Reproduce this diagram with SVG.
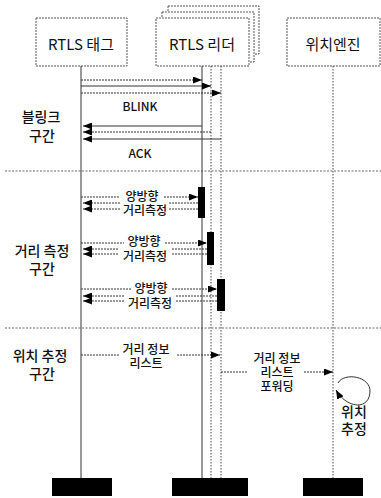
<svg xmlns="http://www.w3.org/2000/svg" width="381" height="498" viewBox="0 0 381 498">
<style>
text{font-family:"Noto Sans CJK KR","Noto Sans",sans-serif;fill:#111;text-anchor:middle;dominant-baseline:central}
.hdr{font-size:15px}
.lbl{font-size:12px;font-weight:500}
.sec{font-size:14px;font-weight:500}
.box{fill:#fff;stroke:#555;stroke-width:1;stroke-dasharray:2 1}
.life{stroke:#333;stroke-width:1;fill:none}
.dot{stroke:#444;stroke-width:1;stroke-dasharray:1.5 1.5;fill:none}
.sep{stroke:#666;stroke-width:1;stroke-dasharray:2 1.5;fill:none}
.ln{stroke:#333;stroke-width:1;fill:none}
.dln{stroke:#333;stroke-width:1;fill:none;stroke-dasharray:2 1}
.arr{marker-end:url(#ah)}
.act{fill:#000}
.bar{fill:#000}
</style>
<defs>
<marker id="ah" markerUnits="userSpaceOnUse" markerWidth="9" markerHeight="7" refX="9" refY="3.5" orient="auto">
<path d="M0,0 L9,3.5 L0,7 z" fill="#000"/>
</marker>
</defs>

<g id="sections">
<line class="sep" x1="5" y1="171" x2="381" y2="171"/>
<line class="sep" x1="5" y1="328" x2="381" y2="328"/>
<text class="sec" x="41" y="116">블링크</text>
<text class="sec" x="42" y="135">구간</text>
<text class="sec" x="42" y="250">거리 측정</text>
<text class="sec" x="42" y="268">구간</text>
<text class="sec" x="40" y="355">위치 추정</text>
<text class="sec" x="42" y="373">구간</text>
</g>

<g id="tag">
<rect class="box" x="36" y="18" width="91" height="48"/>
<text class="hdr" x="81" y="43">RTLS 태그</text>
<line class="life" x1="81" y1="66" x2="81" y2="478"/>
<rect class="bar" x="52" y="478" width="60" height="18"/>
</g>

<g id="reader">
<rect class="box" x="168" y="6" width="91" height="48"/>
<rect class="box" x="162" y="12" width="92" height="50"/>
<rect class="box" x="156" y="18" width="93" height="48"/>
<text class="hdr" x="202" y="43">RTLS 리더</text>
<line class="life" x1="202" y1="66" x2="202" y2="478"/>
<line class="dot" x1="211" y1="66" x2="211" y2="478"/>
<line class="dot" x1="221" y1="66" x2="221" y2="478"/>
<rect class="bar" x="172" y="478" width="76" height="18"/>
</g>

<g id="engine">
<rect class="box" x="287" y="18" width="93" height="48"/>
<text class="hdr" x="333" y="43">위치엔진</text>
<line class="dot" x1="333" y1="66" x2="333" y2="478"/>
<rect class="bar" x="303" y="478" width="60" height="18"/>
</g>

<g id="activations">
<rect class="act" x="198" y="187" width="7" height="31"/>
<rect class="act" x="207" y="232" width="7" height="33"/>
<rect class="act" x="217" y="279" width="8" height="32"/>
</g>

<g id="connectors">
<!-- blink -->
<line class="dln arr" x1="81" y1="80" x2="202" y2="80"/>
<line class="ln arr" x1="81" y1="86" x2="211" y2="86"/>
<line class="dln arr" x1="81" y1="93" x2="221" y2="93"/>
<text class="lbl" x="140" y="105">BLINK</text>
<line class="ln arr" x1="202" y1="126" x2="83" y2="126"/>
<line class="dln arr" x1="211" y1="132" x2="83" y2="132"/>
<line class="ln arr" x1="221" y1="139" x2="83" y2="139"/>
<text class="lbl" x="140" y="152">ACK</text>

<!-- ranging 1 -->
<line class="dln" x1="81" y1="197" x2="120" y2="197"/>
<line class="dln arr" x1="164" y1="197" x2="198" y2="197"/>
<text class="lbl" x="142" y="195">양방향</text>
<line class="dln" x1="198" y1="203" x2="169" y2="203"/>
<line class="dln arr" x1="120" y1="203" x2="83" y2="203"/>
<line class="dln" x1="198" y1="209" x2="169" y2="209"/>
<line class="dln arr" x1="120" y1="209" x2="83" y2="209"/>
<text class="lbl" x="145" y="209">거리측정</text>

<!-- ranging 2 -->
<line class="dln" x1="81" y1="243" x2="124" y2="243"/>
<line class="dln arr" x1="165" y1="243" x2="207" y2="243"/>
<text class="lbl" x="144" y="240">양방향</text>
<line class="dln" x1="207" y1="249" x2="172" y2="249"/>
<line class="dln arr" x1="118" y1="249" x2="83" y2="249"/>
<line class="dln" x1="207" y1="254" x2="172" y2="254"/>
<line class="dln arr" x1="118" y1="254" x2="83" y2="254"/>
<text class="lbl" x="145" y="255">거리측정</text>

<!-- ranging 3 -->
<line class="dln" x1="81" y1="289" x2="131" y2="289"/>
<line class="dln arr" x1="172" y1="289" x2="217" y2="289"/>
<text class="lbl" x="151" y="287">양방향</text>
<line class="dln" x1="217" y1="296" x2="176" y2="296"/>
<line class="dln arr" x1="124" y1="296" x2="83" y2="296"/>
<line class="dln" x1="217" y1="301" x2="176" y2="301"/>
<line class="dln arr" x1="124" y1="301" x2="83" y2="301"/>
<text class="lbl" x="150" y="302">거리측정</text>

<!-- position -->
<line class="dln" x1="81" y1="355" x2="120" y2="355"/>
<line class="dln arr" x1="177" y1="355" x2="220" y2="355"/>
<text class="lbl" x="146" y="348">거리 정보</text>
<text class="lbl" x="146" y="362">리스트</text>
<line class="dln" x1="221" y1="372" x2="248" y2="372"/>
<line class="dln arr" x1="304" y1="372" x2="333" y2="372"/>
<text class="lbl" x="277" y="357">거리 정보</text>
<text class="lbl" x="277" y="371">리스트</text>
<text class="lbl" x="277" y="385">포워딩</text>
<path class="ln arr" d="M338,383 C344,372 371,376 370,392 C369,411 346,408 336,390"/>
<text class="sec" x="354" y="411">위치</text>
<text class="sec" x="354" y="428">추정</text>
</g>
</svg>
